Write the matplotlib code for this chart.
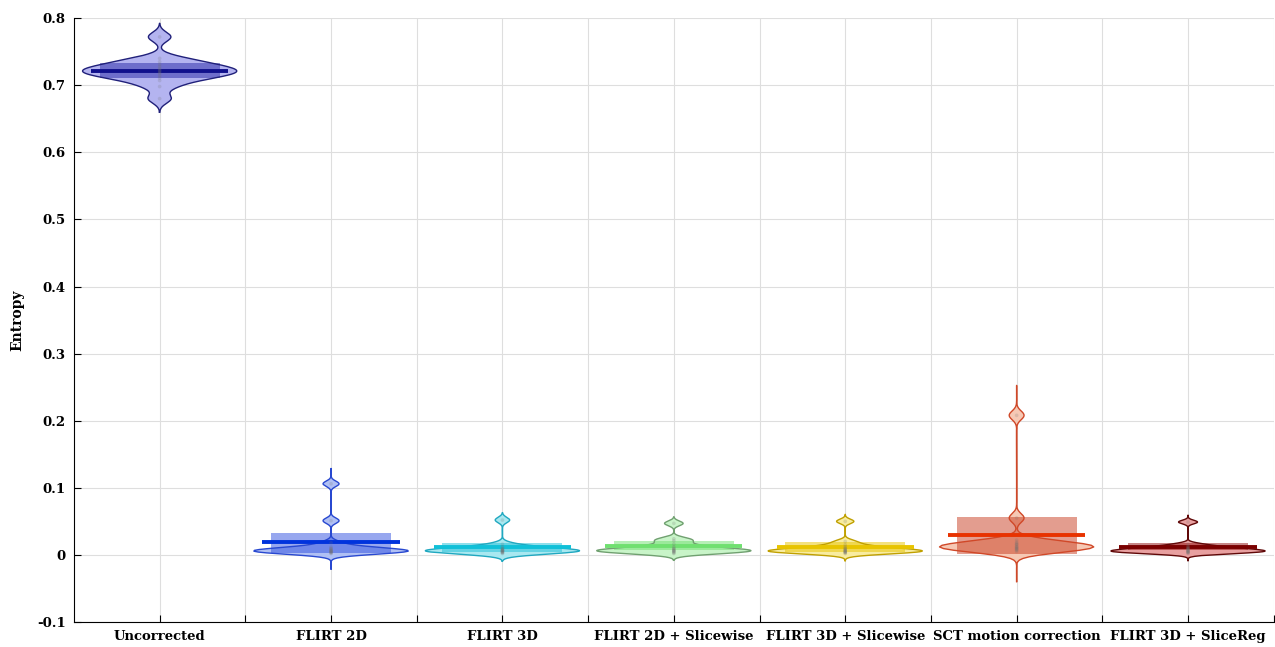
import numpy as np
import matplotlib
matplotlib.use('Agg')
import matplotlib.pyplot as plt
from matplotlib.patches import Rectangle

# entropy values per method
groups = ['Uncorrected', 'FLIRT 2D', 'FLIRT 3D', 'FLIRT 2D + Slicewise',
          'FLIRT 3D + Slicewise', 'SCT motion correction', 'FLIRT 3D + SliceReg']

uncorrected = [0.772, 0.740, 0.735, 0.731, 0.728, 0.725, 0.723, 0.721, 0.719, 0.717, 0.714, 0.711, 0.707, 0.698, 0.680]
flirt_2d = [0.106, 0.051, 0.018, 0.012, 0.010, 0.009, 0.008, 0.007, 0.006, 0.006, 0.005, 0.004, 0.004, 0.003, 0.002]
flirt_3d = [0.052, 0.016, 0.012, 0.010, 0.009, 0.008, 0.007, 0.007, 0.006, 0.006, 0.005, 0.004, 0.004, 0.003, 0.002]
flirt_2d_slice = [0.047, 0.024, 0.021, 0.016, 0.012, 0.010, 0.009, 0.008, 0.007, 0.006, 0.006, 0.005, 0.004, 0.003, 0.002]
flirt_3d_slice = [0.050, 0.020, 0.015, 0.012, 0.010, 0.009, 0.008, 0.007, 0.006, 0.006, 0.005, 0.004, 0.004, 0.003, 0.002]
sct = [0.208, 0.055, 0.022, 0.019, 0.017, 0.016, 0.015, 0.013, 0.012, 0.011, 0.010, 0.009, 0.008, 0.007, 0.005]
slicereg = [0.049, 0.016, 0.013, 0.011, 0.010, 0.009, 0.008, 0.007, 0.006, 0.006, 0.005, 0.004, 0.004, 0.003, 0.002]

data = [uncorrected, flirt_2d, flirt_3d, flirt_2d_slice, flirt_3d_slice, sct, slicereg]

means = [0.721, 0.019, 0.012, 0.013, 0.012, 0.030, 0.012]
box_lo = [0.711, 0.003, 0.004, 0.007, 0.005, 0.002, 0.007]
box_hi = [0.733, 0.033, 0.018, 0.021, 0.019, 0.057, 0.018]
bandwidth = [0.007, 0.004, 0.004, 0.0035, 0.0033, 0.0065, 0.0027]

# colours
mean_col = ['#10108c', '#0033dd', '#10c0d8', '#70e070', '#e8c400', '#e83200', '#7a0000']
box_col = ['#2a2aa8', '#3050e0', '#20c0d8', '#70e070', '#e8c400', '#c83c20', '#901010']
face_col = ['#b4b4f0', '#b0c0f4', '#a8e8f0', '#c8f4c8', '#f8eca0', '#f6c8b4', '#e8a0a0']
edge_col = ['#20207a', '#2848d0', '#20a8c0', '#70a070', '#c0a000', '#d04828', '#600808']

plt.rcParams['font.family'] = ['DejaVu Serif']
plt.rcParams['font.weight'] = 'bold'

fig = plt.figure(figsize=(12.75, 6.47), dpi=100)
ax = fig.add_axes([0.058, 0.0386, 0.941, 0.9334])

for i, vals in enumerate(data):
    pos = i + 1
    v = np.array(vals)
    bw = bandwidth[i]
    ext = 0.22 * (v.max() - v.min())
    y = np.linspace(v.min() - ext, v.max() + ext, 120)
    dens = np.exp(-0.5 * ((y[:, None] - v[None, :]) / bw) ** 2).sum(axis=1)
    w = 0.45 * dens / dens.max()
    ax.fill_betweenx(y, pos - w, pos + w, facecolor=face_col[i], edgecolor='none', zorder=2)
    ax.add_patch(Rectangle((pos - 0.35, box_lo[i]), 0.7, box_hi[i] - box_lo[i],
                           facecolor=box_col[i], alpha=0.5, edgecolor='none', zorder=3))
    ax.plot(np.r_[pos - w, (pos + w)[::-1], pos - w[0]], np.r_[y, y[::-1], y[0]],
            color=edge_col[i], lw=1.0, zorder=4)
    ax.plot([pos - 0.4, pos + 0.4], [means[i], means[i]], color=mean_col[i], lw=2.8,
            solid_capstyle='butt', zorder=5)
    ax.scatter(np.full(len(v), pos), v, s=7, color='#707070', alpha=0.2,
               edgecolors='none', zorder=6)

ax.set_xlim(0.5, 7.5)
ax.set_ylim(-0.1, 0.8)
ax.set_xticks(np.arange(1, 7.51, 0.5))
ax.set_xticklabels([groups[int(t) - 1] if t == int(t) else '' for t in np.arange(1, 7.51, 0.5)])
yt = np.round(np.arange(-0.1, 0.81, 0.1), 1)
ax.set_yticks(yt)
ax.set_yticklabels(['0' if t == 0 else ('%g' % t) for t in yt])
ax.tick_params(direction='in', length=5, width=0.8, labelsize=9.5, pad=6)
ax.grid(True, color='#dedede', lw=0.8, zorder=0)
ax.set_axisbelow(True)
ax.spines['top'].set_visible(False)
ax.spines['right'].set_visible(False)
ax.set_ylabel('Entropy', fontsize=10, fontweight='bold', labelpad=9)

fig.savefig('out.png', dpi=100)
